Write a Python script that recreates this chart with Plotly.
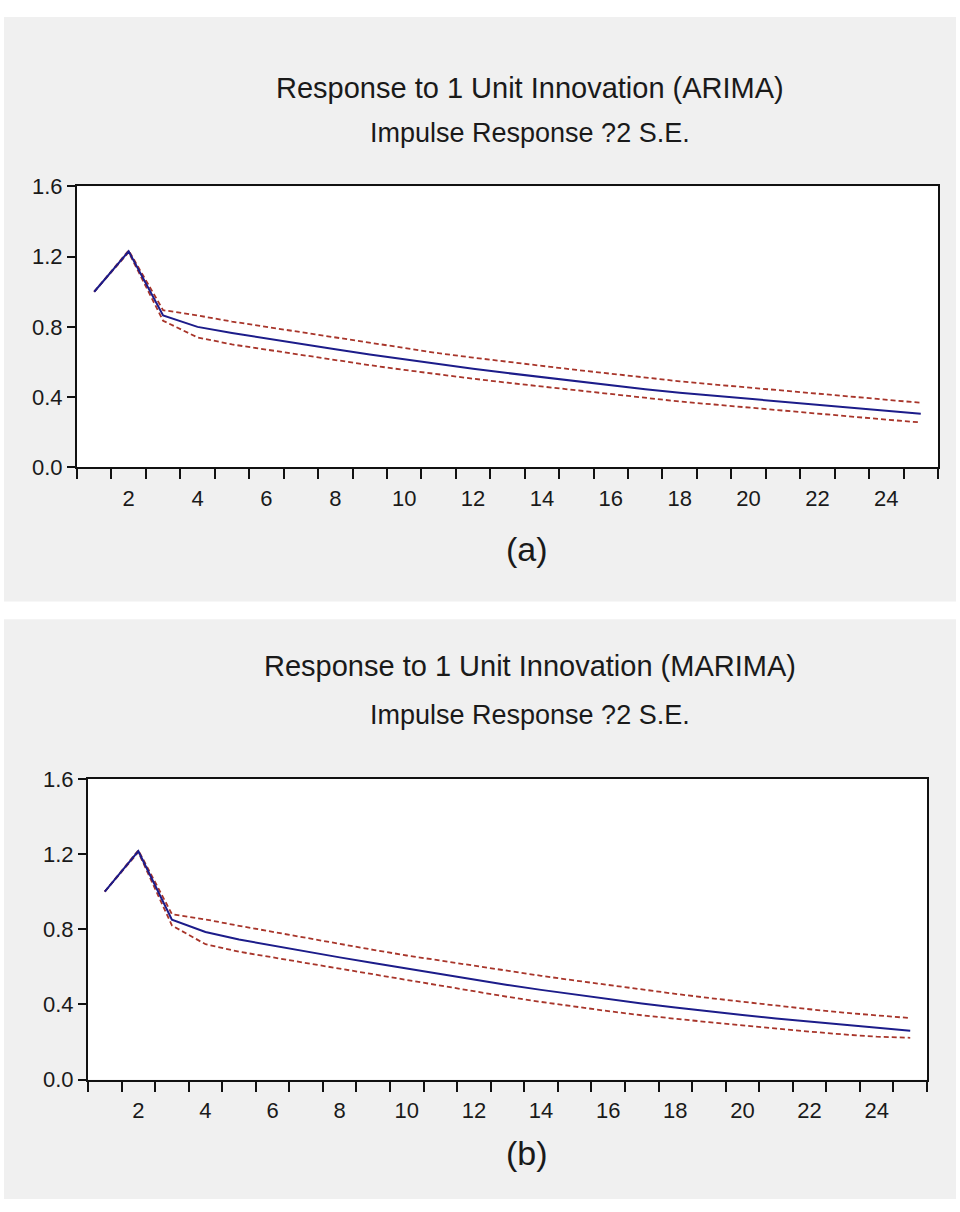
import plotly.graph_objects as go

periods = list(range(1, 26))

arima_resp = [1.00, 1.23, 0.865, 0.80, 0.765, 0.733, 0.703, 0.672, 0.643, 0.615, 0.588, 0.562, 0.537,
              0.513, 0.49, 0.467, 0.445, 0.425, 0.408, 0.39, 0.373, 0.356, 0.339, 0.322, 0.305]
arima_upper = [1.00, 1.235, 0.895, 0.865, 0.83, 0.80, 0.77, 0.738, 0.707, 0.678, 0.65, 0.625, 0.60,
               0.578, 0.555, 0.533, 0.51, 0.49, 0.472, 0.455, 0.438, 0.42, 0.403, 0.386, 0.368]
arima_lower = [1.00, 1.225, 0.835, 0.74, 0.70, 0.67, 0.64, 0.61, 0.582, 0.555, 0.528, 0.505, 0.482,
               0.46, 0.438, 0.415, 0.394, 0.375, 0.358, 0.34, 0.322, 0.305, 0.288, 0.272, 0.256]

marima_resp = [1.00, 1.215, 0.85, 0.785, 0.745, 0.712, 0.68, 0.65, 0.62, 0.59, 0.56, 0.53, 0.503,
               0.477, 0.452, 0.428, 0.405, 0.383, 0.362, 0.343, 0.325, 0.308, 0.291, 0.275, 0.26]
marima_upper = [1.00, 1.22, 0.88, 0.852, 0.818, 0.785, 0.752, 0.72, 0.69, 0.66, 0.632, 0.605, 0.578,
                0.552, 0.527, 0.502, 0.478, 0.456, 0.434, 0.413, 0.393, 0.374, 0.356, 0.34, 0.327]
marima_lower = [1.00, 1.21, 0.82, 0.72, 0.68, 0.65, 0.618, 0.588, 0.558, 0.528, 0.498, 0.468, 0.44,
                0.413, 0.388, 0.364, 0.342, 0.322, 0.305, 0.288, 0.27, 0.255, 0.24, 0.228, 0.222]

titles = ["Response to 1 Unit Innovation (ARIMA)", "Response to 1 Unit Innovation (MARIMA)"]
subtitle = "Impulse Response ?2 S.E."
panel_labels = ["(a)", "(b)"]
y_ticks = [0.0, 0.4, 0.8, 1.2, 1.6]
y_ticktext = ["0.0", "0.4", "0.8", "1.2", "1.6"]
x_labels = [2, 4, 6, 8, 10, 12, 14, 16, 18, 20, 22, 24]
x_bounds = [k + 0.5 for k in range(0, 26)]

W, H = 960, 1212
FONT = "Liberation Sans, Arial, sans-serif"
BLUE = "#1c1c8a"
RED = "#a8352a"
TXT = "#1a1a1a"

fig = go.Figure()

panels = [
    dict(resp=arima_resp, up=arima_upper, lo=arima_lower, xa="x", ya="y",
         px=(77, 938), py=(178, 465), bg=(5, 602), title_y=78, sub_y=124, lab_y=548),
    dict(resp=marima_resp, up=marima_upper, lo=marima_lower, xa="x2", ya="y2",
         px=(88, 927), py=(783, 1090), bg=(620, 1212), title_y=668, sub_y=718, lab_y=1165),
]

shapes = []
annotations = []
for i, p in enumerate(panels):
    shapes.append(dict(type="rect", xref="paper", yref="paper", layer="below",
                       x0=4 / W, x1=956 / W, y0=1 - p["bg"][1] / H, y1=1 - p["bg"][0] / H,
                       fillcolor="#f0f0f0", line=dict(width=0)))
    xs = "x" if i == 0 else "x2"
    ys = "y" if i == 0 else "y2"
    shapes.append(dict(type="rect", xref=xs + " domain", yref=ys + " domain", layer="below",
                       x0=0, x1=1, y0=0, y1=1, fillcolor="white", line=dict(width=0)))
    for series, color, dash, width in [(p["up"], RED, "5px,3px", 1.8), (p["lo"], RED, "5px,3px", 1.8),
                                       (p["resp"], BLUE, "solid", 2)]:
        fig.add_trace(go.Scatter(x=periods, y=series, mode="lines", xaxis=p["xa"], yaxis=p["ya"],
                                 line=dict(color=color, dash=dash, width=width), showlegend=False))
    annotations += [
        dict(text=titles[i], x=530 / W, y=1 - p["title_y"] / H, xref="paper", yref="paper",
             showarrow=False, font=dict(size=29, color=TXT, family=FONT), xanchor="center", yanchor="middle"),
        dict(text=subtitle, x=530 / W, y=1 - p["sub_y"] / H, xref="paper", yref="paper",
             showarrow=False, font=dict(size=27, color=TXT, family=FONT), xanchor="center", yanchor="middle"),
        dict(text=panel_labels[i], x=527 / W, y=1 - p["lab_y"] / H, xref="paper", yref="paper",
             showarrow=False, font=dict(size=34, color=TXT, family=FONT), xanchor="center", yanchor="middle"),
    ]

def xaxis_cfg(p):
    return dict(domain=[p["px"][0] / W, p["px"][1] / W], range=[0.5, 25.5],
                tickmode="array", tickvals=x_labels, ticktext=[str(v) for v in x_labels],
                ticks="outside", ticklen=0, ticklabelstandoff=10,
                minor=dict(tickmode="array", tickvals=x_bounds, ticks="outside", ticklen=10,
                           tickcolor="#111", tickwidth=1.5),
                showline=True, linecolor="#111", linewidth=2, mirror=True, showgrid=False,
                zeroline=False, tickfont=dict(size=22, color=TXT, family=FONT), fixedrange=True)

def yaxis_cfg(p):
    return dict(domain=[1 - p["py"][1] / H, 1 - p["py"][0] / H], range=[0, 1.6],
                tickmode="array", tickvals=y_ticks, ticktext=y_ticktext,
                ticks="outside", ticklen=8, tickcolor="#111", tickwidth=1.5,
                showline=True, linecolor="#111", linewidth=2, mirror=True, showgrid=False,
                zeroline=False, tickfont=dict(size=22, color=TXT, family=FONT), fixedrange=True)

fig.update_layout(
    width=W, height=H, margin=dict(l=0, r=0, t=0, b=0),
    paper_bgcolor="white", plot_bgcolor="white",
    xaxis=dict(anchor="y", **xaxis_cfg(panels[0])),
    yaxis=dict(anchor="x", **yaxis_cfg(panels[0])),
    xaxis2=dict(anchor="y2", **xaxis_cfg(panels[1])),
    yaxis2=dict(anchor="x2", **yaxis_cfg(panels[1])),
    shapes=shapes, annotations=annotations, showlegend=False,
)

fig.write_html("out.html")
